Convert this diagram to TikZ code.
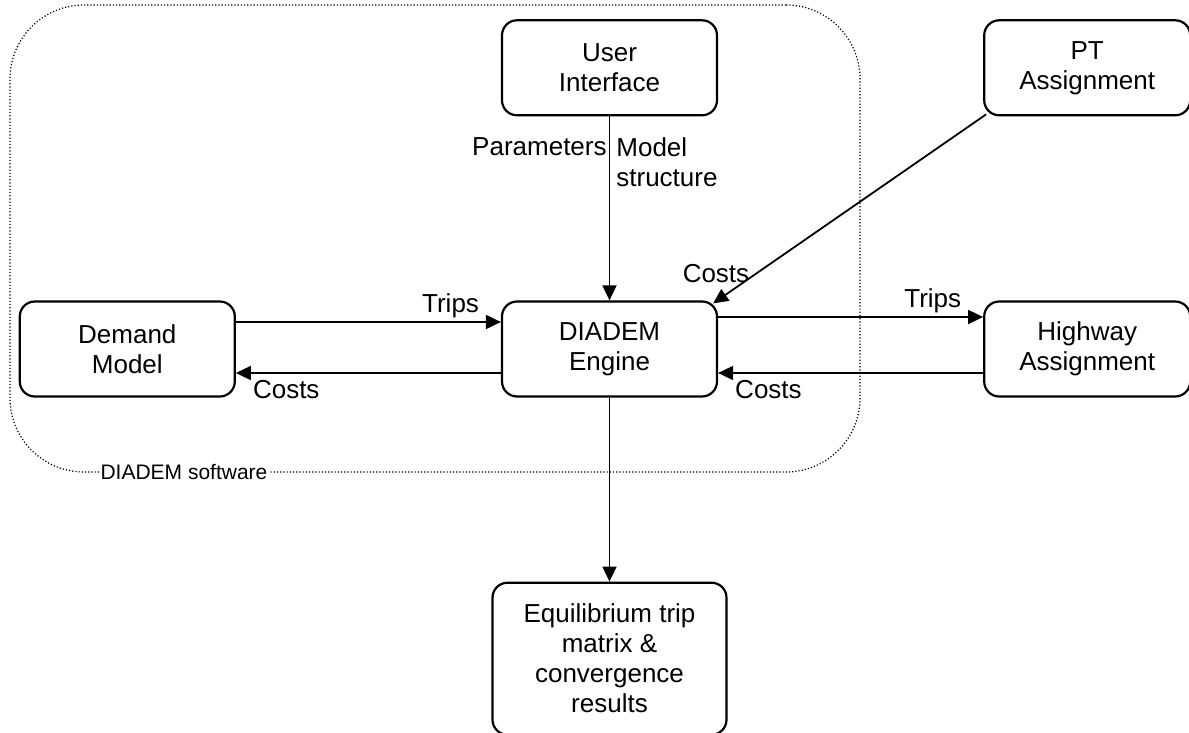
\documentclass[tikz,border=0pt]{standalone}
\usepackage{fontspec}
\setmainfont{Liberation Sans}
\usetikzlibrary{positioning, arrows.meta}

\begin{document}
\begin{tikzpicture}[x=0.5pt, y=-0.5pt, ->, >={Triangle[length=7.5pt, width=7pt]}, line width=0.9pt,
  node distance=92pt and 132.5pt, font=\fontsize{13}{15}\selectfont,
  block/.style={draw, rounded corners=7.5pt, line width=1.1pt, align=center,
    minimum width=107.5pt, minimum height=47.5pt, inner sep=2pt},
  region/.style={draw, line width=0.6pt, dash pattern=on 0.6pt off 1pt, rounded corners=37pt},
  lbl/.style={inner sep=1.5pt},
  ]
  \useasboundingbox (0,0) rectangle (1189,733);

  % DIADEM software boundary
  \node[region, minimum width=425pt, minimum height=233.5pt] (software) at (435,238.5) {};
  \node[fill=white, inner sep=1pt, font=\fontsize{10.5}{12}\selectfont] (softlabel) at (184,472) {DIADEM software};

  \node[block] (engine) at (609.5,349) {DIADEM\\Engine};
  \node[block, above=of engine] (ui) {User\\Interface};
  \node[block, left=of engine] (demand) {Demand\\Model};
  \node[block, right=of engine, minimum width=103pt] (highway) {Highway\\Assignment};
  \node[block, above=of highway, minimum width=103pt] (pt) {PT\\Assignment};
  \node[block, below=of engine, minimum width=117pt, minimum height=76pt] (result) {Equilibrium trip\\matrix \&\\convergence\\results};

  \path
    (ui) edge node[pos=0.08, anchor=north east, inner xsep=1pt, inner ysep=3pt] {Parameters}
              node[pos=0.08, anchor=north west, align=left, inner sep=3pt] {Model\\structure} (engine)
    ([yshift=13.5pt]demand.east) edge node[pos=0.81, above, lbl] {Trips} ([yshift=13.5pt]engine.west)
    ([yshift=-12pt]engine.west) edge node[pos=0.81, below] {Costs} ([yshift=-12pt]demand.east)
    ([yshift=16pt]engine.east) edge node[pos=0.81, above, lbl] {Trips} ([yshift=16pt]highway.west)
    ([yshift=-12pt]highway.west) edge node[pos=0.81, below] {Costs} ([yshift=-12pt]engine.east)
    ([xshift=1.5pt, yshift=1pt]pt.south west) edge node[pos=0.84, left] {Costs} ([xshift=-2.5pt, yshift=-1.5pt]engine.north east)
    (engine) edge (result);
\end{tikzpicture}
\end{document}
